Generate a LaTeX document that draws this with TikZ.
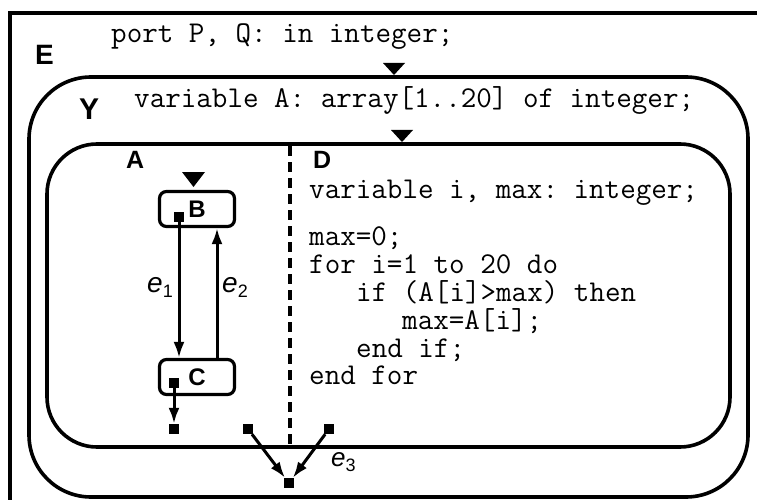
\documentclass[tikz,border=0pt]{standalone}
\usepackage{fontspec}
\setmainfont{Liberation Sans}
\setmonofont{Latin Modern Mono}
\usetikzlibrary{arrows.meta}

\tikzset{
  frame/.style={draw, line width=3.6pt, rounded corners=#1},
  state/.style={draw, line width=3.2pt, rounded corners=7pt,
    minimum width=75pt, minimum height=35pt, inner sep=0,
    font=\bfseries\fontsize{24}{24}\selectfont},
  pin/.style={fill, minimum size=10pt, inner sep=0},
  flow/.style={line width=3pt, -{Latex[length=16pt,width=11pt]}},
  code/.style={anchor=base west, inner sep=0,
    font=\ttfamily\fontsize{30.2}{31}\selectfont},
  tag/.style={anchor=base west, inner sep=0,
    font=\bfseries\fontsize{#1}{#1}\selectfont},
  evt/.style={anchor=base west, inner sep=0,
    font=\itshape\fontsize{#1}{#1}\selectfont},
}
\newcommand{\evsub}[1]{\raisebox{-5pt}{\upshape\fontsize{18}{18}\selectfont #1}}

\begin{document}
\begin{tikzpicture}[x=1pt, y=-1pt]
\useasboundingbox (0,0) rectangle (757,500);
\clip (0,0) rectangle (757,500);

% environment E (runs past the right and bottom edges)
\draw[line width=4.5pt] (10,13) rectangle (790,530);
\node[tag=28] (lE) at (35,65) {E};
\node[code] (portdecl) at (111,43) {port P, Q: in integer;};
\fill (383,63) -- (405,63) -- (394,75) -- cycle;

% behaviour Y
\draw[frame=62pt] (29,77) rectangle (748,497);
\node[tag=30] (lY) at (79,120) {Y};
\node[code] (vardecl) at (134,107) {variable A: array[1..20] of integer;};
\fill (391,130) -- (413,130) -- (402,142) -- cycle;

% concurrent composition of A and D
\draw[frame=50pt] (47,144) rectangle (730,447);
\draw[line width=3.4pt, dash pattern=on 10pt off 6pt] (290,146) -- (290,446);
\node[tag=25] (lA) at (126,168) {A};
\node[tag=25] (lD) at (313,168) {D};

% program D
\node[code] (d0) at (309,198) {variable i, max: integer;};
\node[code] (d1) at (309,245) {max=0;};
\node[code] (d2) at (309,273) {for i=1 to 20 do};
\node[code] (d3) at (356,301) {if (A[i]>max) then};
\node[code] (d4) at (402,329) {max=A[i];};
\node[code] (d5) at (356,357) {end if;};
\node[code] (d6) at (309,384) {end for};

% state machine A
\node[state] (B) at (197,209) {B};
\node[state] (C) at (197,377) {C};
\fill (182,172) -- (205,172) -- (193.5,187) -- cycle;

\node[pin] (sB) at (179,217) {};
\node[pin] (sC) at (174,383) {};
\node[pin] (sCo) at (174,429) {};
\node[pin] (sL) at (248,429) {};
\node[pin] (sR) at (329,429) {};
\node[pin] (sY) at (289,483) {};

\draw[flow] (sB) -- (sB |- C.north);
\draw[flow] ([xshift=20pt]C.north) -- ([xshift=20pt]B.south);
\draw[flow] (sC) -- (sCo);
\draw[flow] (sL) -- (sY);
\draw[flow] (sR) -- (sY);

\node[evt=28] (e1) at (147,292) {e\evsub{1}};
\node[evt=28] (e2) at (222,292) {e\evsub{2}};
\node[evt=26] (e3) at (331,466) {e\evsub{3}};
\end{tikzpicture}
\end{document}
